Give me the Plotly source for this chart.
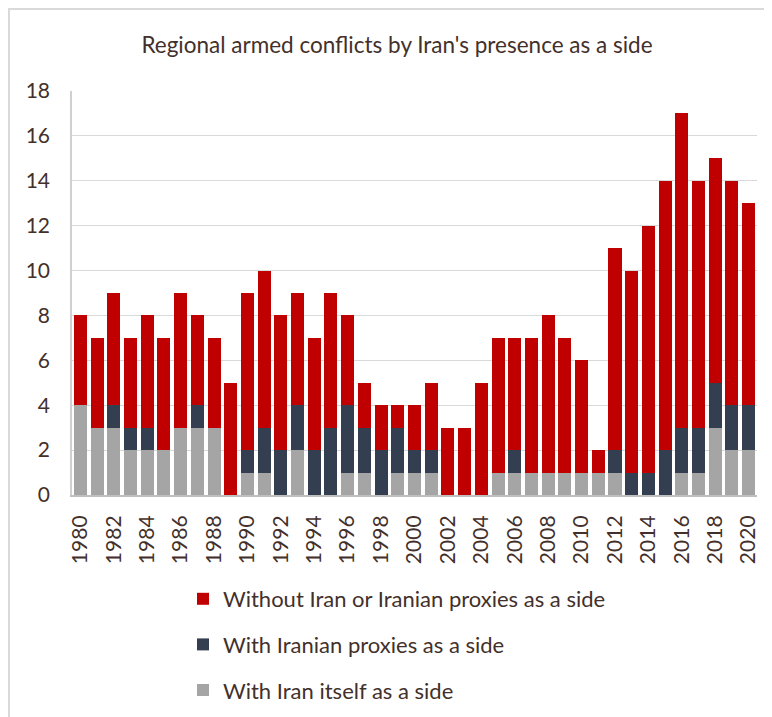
import plotly.graph_objects as go

years = list(range(1980, 2021))
with_iran = [4, 3, 3, 2, 2, 2, 3, 3, 3, 0,
             1, 1, 0, 2, 0, 0, 1, 1, 0, 1,
             1, 1, 0, 0, 0, 1, 1, 1, 1, 1,
             1, 1, 1, 0, 0, 0, 1, 1, 3, 2, 2]
with_proxies = [0, 0, 1, 1, 1, 0, 0, 1, 0, 0,
                1, 2, 2, 2, 2, 3, 3, 2, 2, 2,
                1, 1, 0, 0, 0, 0, 1, 0, 0, 0,
                0, 0, 1, 1, 1, 2, 2, 2, 2, 2, 2]
without_iran = [4, 4, 5, 4, 5, 5, 6, 4, 4, 5,
                7, 7, 6, 5, 5, 6, 4, 2, 2, 1,
                2, 3, 3, 3, 5, 6, 5, 6, 7, 6,
                5, 1, 9, 9, 11, 12, 14, 11, 10, 10, 9]

names = ["With Iran itself as a side",
         "With Iranian proxies as a side",
         "Without Iran or Iranian proxies as a side"]
colors = ["#A5A5A5", "#333F50", "#C00000"]
series = [with_iran, with_proxies, without_iran]
ranks = [3, 2, 1]

TXT = "#43302B"
FONT = "Lato"

fig = go.Figure()
for name, col, vals, rk in zip(names, colors, series, ranks):
    fig.add_trace(go.Bar(x=years, y=vals, name=name, marker_color=col,
                         marker_line_width=0, legendrank=rk, legendgroup=name))

# plot area pixel geometry (figure coordinates)
L, R, T, B = 64, 749, 83, 487
W, H = 772, 717
pw, ph = R - L, B - T

def px_x(p):
    return (p - L) / pw

def px_y(p):
    return (B - p) / ph

fig.update_layout(
    width=W, height=H,
    margin=dict(l=L, r=W - R, t=T, b=H - B, pad=0, autoexpand=False),
    barmode="stack", bargap=0.22,
    paper_bgcolor="white", plot_bgcolor="white",
    font=dict(family=FONT, color=TXT),
    title=dict(text="Regional armed conflicts by Iran's presence as a side",
               x=389 / W, xref="container", xanchor="center",
               y=1 - 37 / H, yref="container", yanchor="middle",
               font=dict(size=22.5, color=TXT, family=FONT)),
    xaxis=dict(range=[1979.5, 2020.5], tickmode="linear", tick0=1980, dtick=2,
               tickangle=-90, tickfont=dict(size=21, color=TXT),
               showgrid=False, showline=True, linecolor="#BFBFBF", linewidth=2,
               ticks="", zeroline=False, ticklabelstandoff=10, automargin=False),
    yaxis=dict(range=[0, 18], dtick=2, tickfont=dict(size=21, color=TXT),
               showgrid=True, gridcolor="#D9D9D9", gridwidth=1,
               showline=True, linecolor="#D0D0D0", linewidth=1.5,
               ticks="", zeroline=False, ticklabelstandoff=16, automargin=False),
    legend=dict(x=175 / W, xref="container", xanchor="left",
                y=1 - 570 / H, yref="container", yanchor="top",
                orientation="v", traceorder="grouped", tracegroupgap=14,
                font=dict(size=22, color=TXT, family=FONT),
                bgcolor="rgba(0,0,0,0)"),
    showlegend=True,
    shapes=[dict(type="rect", xref="paper", yref="paper",
                 x0=px_x(1), x1=px_x(800), y0=px_y(760), y1=px_y(1),
                 line=dict(color="#D9D9D9", width=2), layer="below")],
)

fig.write_html("out.html")
